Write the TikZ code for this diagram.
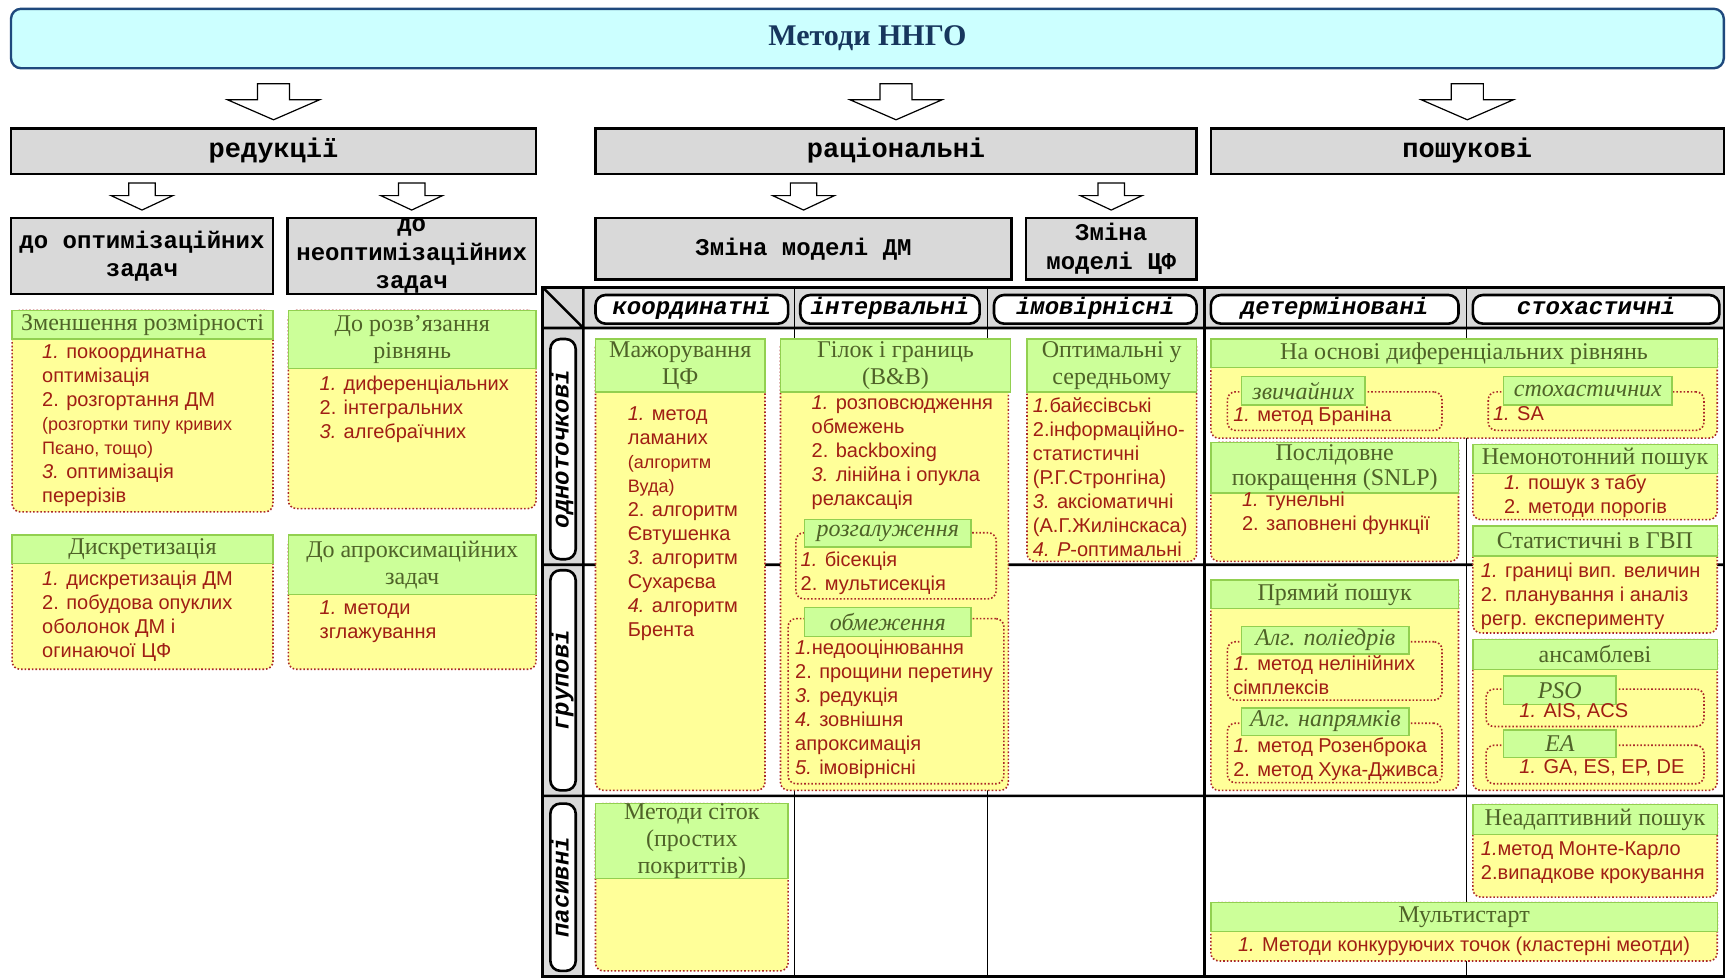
\documentclass[tikz,border=0pt]{standalone}
\usepackage{fontspec}
\setmainfont{Liberation Serif}
\setsansfont{Liberation Sans}
\setmonofont{Liberation Mono}
\usetikzlibrary{positioning,fit,calc}

\definecolor{titlefill}{RGB}{204,255,255}
\definecolor{titleline}{RGB}{31,73,125}
\definecolor{titletext}{RGB}{23,54,93}
\definecolor{greyfill}{RGB}{217,217,217}
\definecolor{headfill}{RGB}{204,255,153}
\definecolor{headline}{RGB}{146,208,80}
\definecolor{headtext}{RGB}{79,98,40}
\definecolor{bodyfill}{RGB}{255,255,153}
\definecolor{dotred}{RGB}{170,40,40}
\definecolor{itemtext}{RGB}{160,30,20}

\newcommand{\itemsmall}{\fontsize{9}{12}\selectfont}

\begin{document}
\begin{tikzpicture}%
		[x=0.55pt,
		y=-0.55pt,
		every node/.style={inner sep=0pt}
		]
		\tikzstyle{titletxt}=[text=titletext, font=\bfseries\fontsize{15}{18}\selectfont]
		\tikzstyle{titlebox}=[draw=titleline, line width=1.2pt, fill=titlefill, rounded corners=5pt]
		\tikzstyle{greytext}=[align=center, font=\ttfamily\bfseries\fontsize{12}{14}\selectfont]
		\tikzstyle{bigtext}=[text height=9pt, text depth=3pt, font=\ttfamily\bfseries\fontsize{13.5}{15}\selectfont]
		\tikzstyle{grey}=[draw, line width=1.3pt, fill=greyfill]
		\tikzstyle{coltext}=[text height=8pt, text depth=2.5pt, font=\ttfamily\bfseries\itshape\fontsize{12}{14}\selectfont]
		\tikzstyle{colhead}=[draw, line width=1.3pt, fill=white, rounded corners=5pt]
		\tikzstyle{body}=[draw=dotred, fill=bodyfill, densely dotted, line width=0.8pt, rounded corners=4pt]
		\tikzstyle{headtxt}=[align=center, text=headtext, font=\fontsize{12}{13.5}\selectfont]
		\tikzstyle{subtxt}=[headtxt, font=\itshape\fontsize{12}{13.5}\selectfont]
		\tikzstyle{head}=[draw=headline, fill=headfill, line width=0.7pt]
		\tikzstyle{items}=[anchor=north west, align=left, text=itemtext, font=\sffamily\fontsize{10}{12}\selectfont]
		\tikzstyle{bigarrow}=[draw, fill=white, line width=0.6pt,
			to path={let \p1=(\tikztostart), \p2=(\tikztotarget) in
				({\x2-8pt},\y1) -- ({\x2-8pt},{\y2+10pt}) -- ({\x2-23pt},{\y2+10pt}) -- (\x2,\y2)
				-- ({\x2+23pt},{\y2+10pt}) -- ({\x2+8pt},{\y2+10pt}) -- ({\x2+8pt},\y1) -- cycle}]
		\tikzstyle{smallarrow}=[draw, fill=white, line width=0.6pt,
			to path={let \p1=(\tikztostart), \p2=(\tikztotarget) in
				({\x2-6.6pt},\y1) -- ({\x2-6.6pt},{\y2+7.2pt}) -- ({\x2-15.4pt},{\y2+7.2pt}) -- (\x2,\y2)
				-- ({\x2+15.4pt},{\y2+7.2pt}) -- ({\x2+6.6pt},{\y2+7.2pt}) -- ({\x2+6.6pt},\y1) -- cycle}]

		\useasboundingbox (0,0) rectangle (1568,888);

		% table frame
		\fill[greyfill] (493,261) rectangle (1566,298);
		\fill[greyfill] (493,298) rectangle (530,887);
		\draw[line width=0.6pt] (722,261) -- (722,887) (897,261) -- (897,887) (1332,261) -- (1332,887);
		\draw[line width=1.3pt] (1094,261) -- (1094,887);
		\draw[line width=1.3pt] (493,298) -- (1566,298) (493,513) -- (1566,513) (493,723) -- (1566,723)
			(530,261) -- (530,887) (493,261) -- (530,298);
		\draw[line width=1.3pt] (493,261) rectangle (1566,887);

		% title and levels
		\node[titlebox, fit={(10,8) (1566,62)}, label={[titletxt]center:Методи ННГО}] (title) {};
		\node[grey, fit={(10,117) (487,158)}, label={[bigtext]center:редукції}] (red) {};
		\node[grey, fit={(541,117) (1087,158)}, label={[bigtext]center:раціональні}] (rat) {};
		\node[grey, fit={(1100,117) (1566,158)}, label={[bigtext]center:пошукові}] (posh) {};
		\node[grey, fit={(10,198) (248,267)}, label={[greytext]center:до оптимізаційних\\задач}] (dopt) {};
		\node[grey, fit={(261,198) (487,267)}, label={[greytext]center:до\\неоптимізаційних\\задач}] (dneopt) {};
		\node[grey, fit={(541,198) (919,254)}, label={[greytext]center:Зміна моделі ДМ}] (dm) {};
		\node[grey, fit={(932,198) (1087,254)}, label={[greytext]center:Зміна\\моделі ЦФ}] (cf) {};

		\path[bigarrow] ($(title.south -| red.north)+(0,13)$) to ($(red.north)+(0,-7)$);
		\path[bigarrow] ($(title.south -| rat.north)+(0,13)$) to ($(rat.north)+(0,-7)$);
		\path[bigarrow] ($(title.south -| posh.north)+(0,13)$) to ($(posh.north)+(0,-7)$);
		\path[smallarrow] ($(red.south -| dopt.north)+(0,7)$) to ($(dopt.north)+(0,-6)$);
		\path[smallarrow] ($(red.south -| dneopt.north)+(0,7)$) to ($(dneopt.north)+(0,-6)$);
		\path[smallarrow] ($(rat.south -| dm.north)+(0,7)$) to ($(dm.north)+(0,-6)$);
		\path[smallarrow] ($(rat.south -| cf.north)+(0,7)$) to ($(cf.north)+(0,-6)$);

		% column and row heads
		\node[colhead, fit={(541,268) (716,294)}, label={[coltext]center:координатні}] (coord) {};
		\node[colhead, fit={(727,268) (890,294)}, label={[coltext]center:інтервальні}] (interv) {};
		\node[colhead, fit={(903,268) (1087,294)}, label={[coltext]center:імовірнісні}] (prob) {};
		\node[colhead, fit={(1100,268) (1325,294)}, label={[coltext]center:детерміновані}] (determ) {};
		\node[colhead, fit={(1338,268) (1562,294)}, label={[coltext]center:стохастичні}] (stoch) {};
		\node[colhead, fit={(500,308) (523,508)}, label={[coltext, rotate=90]center:одноточкові}] (single) {};
		\node[colhead, fit={(500,518) (523,718)}, label={[coltext, rotate=90]center:групові}] (group) {};
		\node[colhead, fit={(500,730) (523,882)}, label={[coltext, rotate=90]center:пасивні}] (passive) {};

		% reduction
		\node[body, fit={(11,282) (248,465)}] (zmb) {};
		\node[head, fit={(11,282) (248,308)}, label={[headtxt]center:Зменшення розмірності}] (zmh) {};
		\node[items] (zmi) at (38,313) {\textit{1.} покоординатна\\оптимізація\\2. розгортання ДМ\\{\itemsmall(розгортки типу кривих}\\{\itemsmall Пєано, тощо)}\\\textit{3.} оптимізація\\перерізів};

		\node[body, fit={(11,486) (248,608)}] (dkb) {};
		\node[head, fit={(11,486) (248,512)}, label={[headtxt]center:Дискретизація}] (dkh) {};
		\node[items] (dki) at (38,518) {\textit{1.} дискретизація ДМ\\2. побудова опуклих\\оболонок ДМ і\\огинаючої ЦФ};

		\node[body, fit={(262,282) (487,462)}] (rrb) {};
		\node[head, fit={(262,282) (487,335)}, label={[headtxt]center:До розв’язання\\рівнянь}] (rrh) {};
		\node[items] (rri) at (290,341) {\textit{1.} диференціальних\\2. інтегральних\\\textit{3.} алгебраїчних};

		\node[body, fit={(262,486) (487,608)}] (apb) {};
		\node[head, fit={(262,486) (487,540)}, label={[headtxt]center:До апроксимаційних\\задач}] (aph) {};
		\node[items] (api) at (290,545) {\textit{1.} методи\\зглажування};

		% rational
		\node[body, fit={(541,308) (695,718)}] (mjb) {};
		\node[head, fit={(541,308) (695,356)}, label={[headtxt]center:Мажорування\\ЦФ}] (mjh) {};
		\node[items] (mji) at (570,369) {\textit{1.} метод\\ламаних\\{\itemsmall(алгоритм}\\{\itemsmall Вуда)}\\2. алгоритм\\Євтушенка\\\textit{3.} алгоритм\\Сухарєва\\\textit{4.} алгоритм\\Брента};

		\node[body, fit={(709,308) (916,718)}] (bbb) {};
		\node[head, fit={(709,308) (918,356)}, label={[headtxt]center:Гілок і границь\\(B\&B)}] (bbh) {};
		\node[items] (bbi) at (737,359) {\textit{1.} розповсюдження\\обмежень\\2. backboxing\\\textit{3.} лінійна і опукла\\релаксація};
		\node[body, fit={(723,484) (905,544)}] (rzb) {};
		\node[head, fit={(731,472) (882,497)}, label={[subtxt]center:розгалуження}] (rzh) {};
		\node[items] (rzi) at (727,501) {\textit{1.} бісекція\\2. мультисекція};
		\node[body, fit={(716,562) (912,712)}] (obb) {};
		\node[head, fit={(731,552) (882,578)}, label={[subtxt]center:обмеження}] (obh) {};
		\node[items] (obi) at (722,581) {\textit{1.}недооцінювання\\2. прощини перетину\\\textit{3.} редукція\\\textit{4.} зовнішня\\апроксимація\\\textit{5.} імовірнісні};

		\node[body, fit={(933,308) (1087,510)}] (osb) {};
		\node[head, fit={(933,308) (1087,356)}, label={[headtxt]center:Оптимальні у\\середньому}] (osh) {};
		\node[items] (osi) at (938,361) {\textit{1.}байєсівські\\2.інформаційно-\\статистичні\\(Р.Г.Стронгіна)\\\textit{3.} аксіоматичні\\(А.Г.Жилінскаса)\\\textit{4. P}-оптимальні};

		\node[body, fit={(541,730) (716,882)}] (ssb) {};
		\node[head, fit={(541,730) (716,798)}, label={[headtxt]center:Методи сіток\\(простих\\покриттів)}] (ssh) {};

		% search
		\node[body, fit={(1100,308) (1560,398)}] (drb) {};
		\node[head, fit={(1100,308) (1560,334)}, label={[headtxt]center:На основі диференціальних рівнянь}] (drh) {};
		\node[body, fit={(1115,356) (1310,391)}] (zvb) {};
		\node[head, fit={(1128,342) (1240,368)}, label={[subtxt]center:звичайних}] (zvh) {};
		\node[items] (zvi) at (1120,369) {\textit{1.} метод Браніна};
		\node[body, fit={(1352,356) (1548,391)}] (stb) {};
		\node[head, fit={(1366,342) (1519,368)}, label={[subtxt]center:стохастичних}] (sth) {};
		\node[items] (sti) at (1356,369) {\textit{1.} SA};

		\node[body, fit={(1100,402) (1325,510)}] (ppb) {};
		\node[head, fit={(1100,402) (1325,448)}, label={[headtxt, font=\fontsize{12}{12.5}\selectfont]center:Послідовне\\покращення (SNLP)}] (pph) {};
		\node[items] (ppi) at (1128,447) {\textit{1.} тунельні\\2. заповнені функції};

		\node[body, fit={(1338,404) (1560,472)}] (nmb) {};
		\node[head, fit={(1338,404) (1560,430)}, label={[headtxt]center:Немонотонний пошук}] (nmh) {};
		\node[items] (nmi) at (1366,431) {\textit{1.} пошук з табу\\2. методи порогів};

		\node[body, fit={(1338,478) (1560,575)}] (sgb) {};
		\node[head, fit={(1338,478) (1560,505)}, label={[headtxt]center:Статистичні в ГВП}] (sgh) {};
		\node[items] (sgi) at (1345,511) {\textit{1.} границі вип. величин\\2. планування і аналіз\\регр. експерименту};

		\node[body, fit={(1100,527) (1325,718)}] (prb) {};
		\node[head, fit={(1100,527) (1325,553)}, label={[headtxt]center:Прямий пошук}] (prh) {};
		\node[body, fit={(1115,583) (1310,636)}] (plb) {};
		\node[head, fit={(1128,569) (1280,594)}, label={[subtxt]center:Алг. поліедрів}] (plh) {};
		\node[items] (pli) at (1120,595) {\textit{1.} метод нелінійних\\сімплексів};
		\node[body, fit={(1115,657) (1310,711)}] (npb) {};
		\node[head, fit={(1128,643) (1280,668)}, label={[subtxt]center:Алг. напрямків}] (nph) {};
		\node[items] (npi) at (1120,670) {\textit{1.} метод Розенброка\\2. метод Хука-Дживса};

		\node[body, fit={(1338,581) (1560,718)}] (anb) {};
		\node[head, fit={(1338,581) (1560,608)}, label={[headtxt]center:ансамблеві}] (anh) {};
		\node[body, fit={(1350,626) (1548,660)}] (psb) {};
		\node[head, fit={(1366,614) (1468,640)}, label={[subtxt]center:PSO}] (psh) {};
		\node[items] (psi) at (1380,639) {\textit{1.} AIS, ACS};
		\node[body, fit={(1350,677) (1548,712)}] (eab) {};
		\node[head, fit={(1366,663) (1468,688)}, label={[subtxt]center:EA}] (eah) {};
		\node[items] (eai) at (1380,690) {\textit{1.} GA, ES, EP, DE};

		\node[body, fit={(1338,731) (1560,815)}] (nab) {};
		\node[head, fit={(1338,731) (1560,758)}, label={[headtxt]center:Неадаптивний пошук}] (nah) {};
		\node[items] (nai) at (1345,764) {\textit{1.}метод Монте-Карло\\2.випадкове крокування};

		\node[body, fit={(1100,820) (1560,873)}] (msb) {};
		\node[head, fit={(1100,820) (1560,846)}, label={[headtxt]center:Мультистарт}] (msh) {};
		\node[items, anchor=center] (msi) at (1330,860) {\textit{1.} Методи конкуруючих точок (кластерні меотди)};
		\end{tikzpicture}
\end{document}
